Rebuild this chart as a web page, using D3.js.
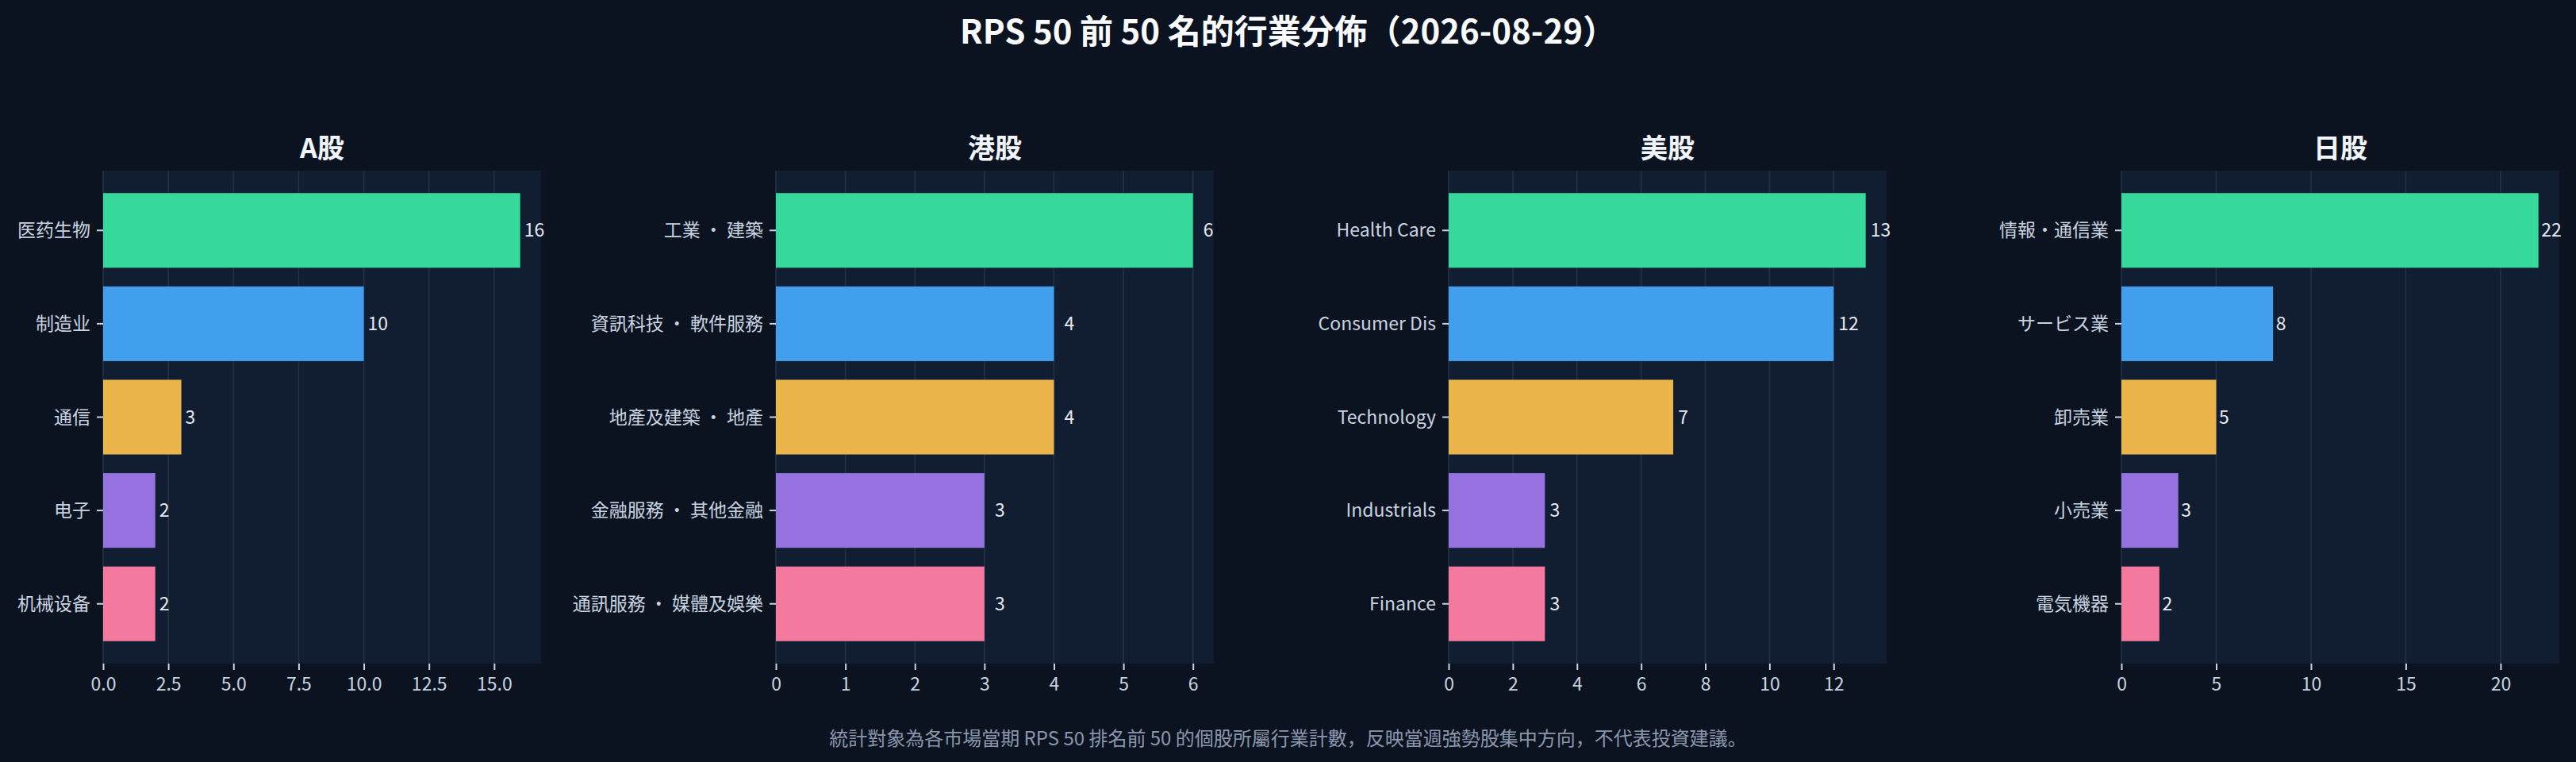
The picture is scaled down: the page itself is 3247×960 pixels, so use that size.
<!DOCTYPE html>
<html>
<head>
<meta charset="utf-8">
<script src="https://cdn.jsdelivr.net/npm/d3@7"></script>
<style>
  html, body { margin: 0; padding: 0; background: #0b1321; }
  svg text { font-family: "Noto Sans CJK JP", "Noto Sans CJK SC", "Noto Sans", sans-serif; }
</style>
</head>
<body>
<svg id="chart"></svg>
<script>
// chart data
const markets = ['A股', '港股', '美股', '日股'];

const aCats = ['医药生物', '制造业', '通信', '电子', '机械设备'];
const aVals = [16, 10, 3, 2, 2];

const hkCats = ['工業 ・ 建築', '資訊科技 ・ 軟件服務', '地產及建築 ・ 地產', '金融服務 ・ 其他金融', '通訊服務 ・ 媒體及娛樂'];
const hkVals = [6, 4, 4, 3, 3];

const usCats = ['Health Care', 'Consumer Dis', 'Technology', 'Industrials', 'Finance'];
const usVals = [13, 12, 7, 3, 3];

const jpCats = ['情報・通信業', 'サービス業', '卸売業', '小売業', '電気機器'];
const jpVals = [22, 8, 5, 3, 2];

// x tick labels per panel
const aTicks = [0, 2.5, 5, 7.5, 10, 12.5, 15];
const hkTicks = [0, 1, 2, 3, 4, 5, 6];
const usTicks = [0, 2, 4, 6, 8, 10, 12];
const jpTicks = [0, 5, 10, 15, 20];

const barColors = ['#36d99b', '#419fee', '#ebb54b', '#9672e0', '#f4799e'];

const titleText = 'RPS 50 前 50 名的行業分佈（2026-08-29）';
const noteText = '統計對象為各市場當期 RPS 50 排名前 50 的個股所屬行業計數，反映當週強勢股集中方向，不代表投資建議。';

const W = 3247, H = 960;
const svg = d3.select('#chart').attr('width', W).attr('height', H);

svg.append('rect')
    .attr('width', W)
    .attr('height', H)
    .attr('fill', '#0b1321');

// panel geometry
const panelLeft = [130, 978, 1826, 2674];
const panelW = 552;
const panelTop = 215;
const panelH = 621;

const panels = [
    {cats: aCats, vals: aVals, ticks: aTicks, fmt: d3.format('.1f')},
    {cats: hkCats, vals: hkVals, ticks: hkTicks, fmt: d3.format('d')},
    {cats: usCats, vals: usVals, ticks: usTicks, fmt: d3.format('d')},
    {cats: jpCats, vals: jpVals, ticks: jpTicks, fmt: d3.format('d')}
];

panels.forEach((p, k) => {
    let g = svg.append('g')
        .attr('transform', 'translate(' + panelLeft[k] + ',' + panelTop + ')');

    let maxV = d3.max(p.vals);
    let x = d3.scaleLinear().domain([0, maxV * 1.05]).range([0, panelW]);
    // matplotlib style: bar height 0.8 with 5% margins
    let y = d3.scaleLinear().domain([-0.64, p.cats.length - 1 + 0.64]).range([0, panelH]);

    // axes background
    g.append('rect')
        .attr('width', panelW)
        .attr('height', panelH)
        .attr('fill', '#111d30');

    // grid lines
    g.selectAll('line.grid')
        .data(p.ticks)
        .enter().append('line')
        .attr('class', 'grid')
        .attr('x1', d => x(d))
        .attr('x2', d => x(d))
        .attr('y1', 0)
        .attr('y2', panelH)
        .attr('stroke', '#243246')
        .attr('stroke-width', 1.6);

    // bars
    g.selectAll('rect.bar')
        .data(p.vals)
        .enter().append('rect')
        .attr('class', 'bar')
        .attr('x', x(0))
        .attr('y', (d, i) => y(i - 0.4))
        .attr('width', d => x(d) - x(0))
        .attr('height', y(0.4) - y(-0.4))
        .attr('fill', (d, i) => barColors[i]);

    // value labels
    g.selectAll('text.val')
        .data(p.vals)
        .enter().append('text')
        .attr('class', 'val')
        .attr('x', d => x(d + 0.15))
        .attr('y', (d, i) => y(i))
        .attr('dy', '0.35em')
        .attr('font-size', 23)
        .attr('fill', '#e6eaf0')
        .text(d => d);

    // x axis
    let xAxis = g.append('g')
        .attr('transform', 'translate(0,' + panelH + ')')
        .call(d3.axisBottom(x).tickValues(p.ticks).tickFormat(p.fmt).tickSize(8).tickPadding(10));
    xAxis.select('.domain').remove();
    xAxis.selectAll('line').attr('stroke', '#c9d3e0').attr('stroke-width', 2);
    xAxis.selectAll('text')
        .attr('font-size', 23)
        .attr('fill', '#c9d3e0')
        .attr('font-family', '"Noto Sans CJK JP", sans-serif');

    // y axis (category labels)
    let yTick = g.append('g');
    yTick.selectAll('line')
        .data(p.cats)
        .enter().append('line')
        .attr('x1', -8)
        .attr('x2', 0)
        .attr('y1', (d, i) => y(i))
        .attr('y2', (d, i) => y(i))
        .attr('stroke', '#c9d3e0')
        .attr('stroke-width', 2);
    yTick.selectAll('text')
        .data(p.cats)
        .enter().append('text')
        .attr('x', -16)
        .attr('y', (d, i) => y(i))
        .attr('dy', '0.35em')
        .attr('text-anchor', 'end')
        .attr('font-size', 23)
        .attr('fill', '#c9d3e0')
        .text(d => d);

    // panel title
    g.append('text')
        .attr('x', panelW / 2)
        .attr('y', -16)
        .attr('text-anchor', 'middle')
        .attr('font-size', 34)
        .attr('font-weight', 'bold')
        .attr('fill', '#f1f5f9')
        .text(markets[k]);
});

// main title
svg.append('text')
    .attr('x', W / 2)
    .attr('y', 55)
    .attr('text-anchor', 'middle')
    .attr('font-size', 42)
    .attr('font-weight', 'bold')
    .attr('fill', '#f8fafc')
    .text(titleText);

// footnote
svg.append('text')
    .attr('x', W / 2)
    .attr('y', 939)
    .attr('text-anchor', 'middle')
    .attr('font-size', 24)
    .attr('fill', '#8a97ab')
    .text(noteText);
</script>
</body>
</html>
